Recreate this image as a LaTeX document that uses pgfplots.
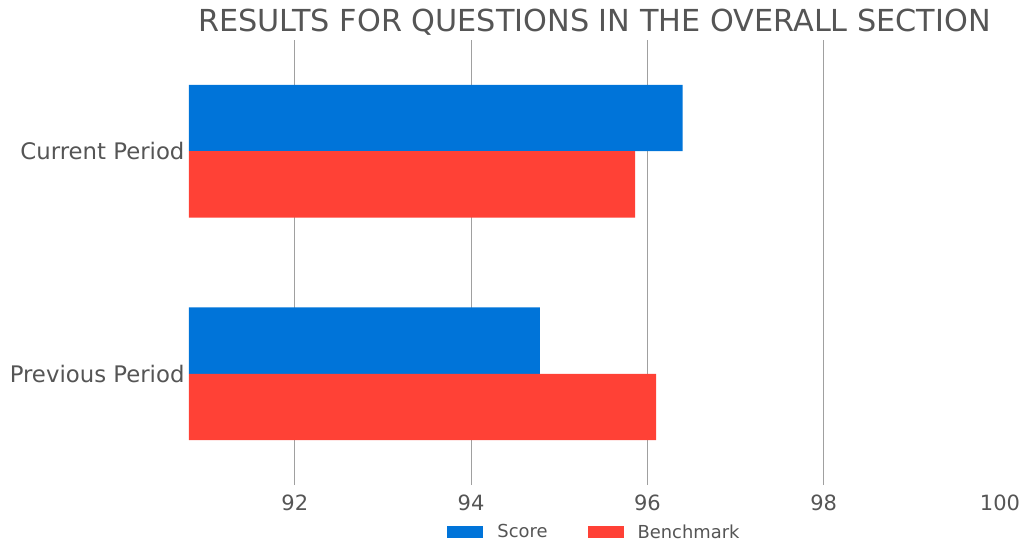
\documentclass[border=0pt]{standalone}
\usepackage{pgfplots}
\pgfplotsset{compat=1.18}
\usepackage{fontspec}
\setmainfont{DejaVu Sans}
\definecolor{scoreblue}{HTML}{0074D9}
\definecolor{benchred}{HTML}{FF4136}
\definecolor{txtgray}{HTML}{555555}
\definecolor{gridgray}{HTML}{A0A0A0}
\begin{document}
\begin{tikzpicture}[x=1pt,y=1pt]
\path[use as bounding box] (0,0) rectangle (1023,544);
\begin{axis}[
  at={(189pt,59pt)}, anchor=south west,
  scale only axis, width=811pt, height=445pt,
  xmin=90.8, xmax=100, ymin=-0.5, ymax=1.5,
  xbar, bar width=0.298,
  axis line style={draw=none},
  ytick={0,1}, yticklabels={Previous Period, Current Period},
  xtick={92,94,96,98}, extra x ticks={100},
  extra x tick style={grid=none},
  xmajorgrids, grid style={gridgray, line width=0.8pt},
  major tick length=0pt,
  /pgf/number format/assume math mode=true,
  xticklabel style={font=\fontsize{21}{24}\selectfont, text=txtgray, yshift=-6pt},
  yticklabel style={font=\fontsize{22.8}{26}\selectfont, text=txtgray, xshift=-1pt},
  title={RESULTS FOR QUESTIONS IN THE OVERALL SECTION},
  title style={font=\fontsize{30.3}{34}\selectfont, text=txtgray, at={(0.5,1)}, anchor=center, yshift=12pt},
  legend style={at={(0.5,0)}, anchor=center, yshift=-47pt, draw=none, legend columns=2,
    font=\fontsize{17.9}{20}\selectfont, text=txtgray,
    /tikz/every odd column/.append style={column sep=12pt},
    /tikz/every even column/.append style={column sep=38pt}},
  legend image code/.code={\fill[#1] (0pt,-6pt) rectangle (36pt,6pt);},
]
\addplot[fill=scoreblue, draw=none, bar shift=0.149] coordinates {(94.78,0) (96.40,1)};
\addplot[fill=benchred, draw=none, bar shift=-0.149] coordinates {(96.10,0) (95.86,1)};
\legend{Score, Benchmark}
\end{axis}
\end{tikzpicture}
\end{document}
